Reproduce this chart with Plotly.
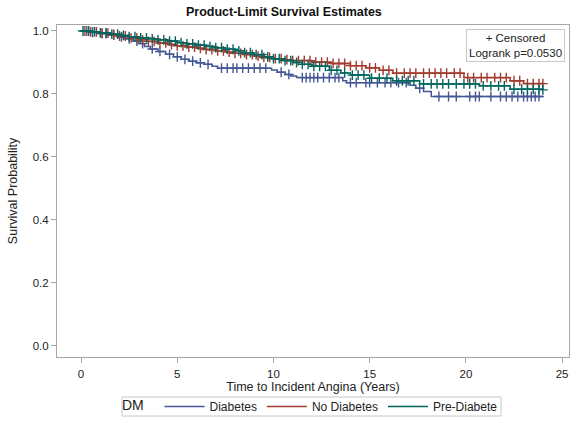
import plotly.graph_objects as go

# ---- data ----
groups = ["Diabetes", "No Diabetes", "Pre-Diabete"]
colors = ["#445694", "#A23A2E", "#01665E"]

dia_t = [0, 0.4, 0.9, 1.4, 1.9, 2.3, 2.7, 3.0, 3.3, 3.6, 4.0, 4.4, 4.8, 5.2, 5.6, 6.0, 6.4, 6.8, 7.1, 9.9, 10.2, 10.6, 10.9, 11.2, 13.6, 13.8, 17.1, 17.4, 17.8, 18.2, 24.0]
dia_s = [1.0, 0.996, 0.992, 0.987, 0.981, 0.975, 0.968, 0.960, 0.951, 0.943, 0.935, 0.926, 0.918, 0.910, 0.904, 0.899, 0.894, 0.888, 0.882, 0.876, 0.869, 0.862, 0.857, 0.852, 0.842, 0.836, 0.828, 0.818, 0.808, 0.792, 0.792]

nod_t = [0, 0.5, 1.0, 1.5, 2.0, 2.5, 3.0, 3.5, 4.0, 4.5, 5.0, 5.5, 6.0, 6.5, 7.0, 7.5, 8.0, 8.5, 9.0, 9.5, 10.0, 10.5, 11.0, 12.0, 13.0, 14.0, 14.8, 15.5, 16.2, 19.9, 22.3, 23.0, 24.1]
nod_s = [1.0, 0.997, 0.993, 0.989, 0.984, 0.978, 0.972, 0.967, 0.962, 0.957, 0.953, 0.949, 0.945, 0.941, 0.937, 0.933, 0.929, 0.925, 0.920, 0.916, 0.912, 0.909, 0.906, 0.901, 0.897, 0.890, 0.883, 0.875, 0.866, 0.852, 0.842, 0.833, 0.833]

pre_t = [0, 0.5, 1.0, 1.5, 2.0, 2.5, 3.0, 3.5, 4.0, 4.5, 5.0, 5.5, 6.0, 6.5, 7.0, 7.5, 8.0, 8.5, 9.0, 9.5, 10.0, 10.5, 11.0, 11.5, 12.0, 12.9, 13.5, 14.0, 15.0, 16.2, 17.6, 20.7, 22.3, 24.0]
pre_s = [1.0, 0.997, 0.994, 0.990, 0.986, 0.982, 0.978, 0.975, 0.972, 0.968, 0.963, 0.959, 0.955, 0.951, 0.947, 0.942, 0.937, 0.931, 0.925, 0.918, 0.912, 0.906, 0.900, 0.894, 0.888, 0.875, 0.867, 0.860, 0.850, 0.842, 0.832, 0.826, 0.815, 0.813]

dia_cens = [0.3, 0.6, 1.1, 1.3, 1.7, 2.1, 2.5, 2.9, 3.2, 3.7, 4.1, 4.6, 5.0, 5.4, 5.8, 6.2, 6.6, 7.3, 7.6, 7.9, 8.1, 8.4, 8.7, 9.0, 9.3, 9.6, 10.4, 10.8, 11.5, 11.7, 11.9, 12.1, 12.3, 12.6, 12.9, 13.2, 13.4, 14.0, 14.3, 14.8, 15.0, 15.4, 15.8, 16.1, 16.5, 16.9, 17.6, 18.6, 19.1, 19.5, 20.2, 20.5, 20.7, 21.3, 21.8, 22.1, 22.4, 22.7, 23.0, 23.2, 23.4, 23.6, 23.8]
nod_cens = [0.2, 0.5, 0.8, 1.1, 1.4, 1.7, 2.0, 2.3, 2.6, 2.9, 3.2, 3.5, 3.8, 4.1, 4.4, 4.7, 5.0, 5.3, 5.6, 5.9, 6.2, 6.5, 6.8, 7.1, 7.4, 7.7, 8.0, 8.3, 8.6, 8.9, 9.2, 9.5, 9.8, 10.1, 10.4, 10.7, 11.0, 11.3, 11.6, 11.9, 12.2, 12.5, 12.8, 13.1, 13.4, 13.7, 14.0, 14.3, 14.6, 15.0, 15.3, 15.7, 16.0, 16.4, 16.8, 17.1, 17.4, 17.8, 18.1, 18.4, 18.7, 19.0, 19.4, 19.7, 20.1, 20.4, 20.8, 21.1, 21.5, 21.8, 22.1, 22.5, 22.8, 23.2, 23.5, 23.8, 24.0]
pre_cens = [0.1, 0.4, 0.7, 1.0, 1.3, 1.6, 1.9, 2.2, 2.5, 2.8, 3.1, 3.4, 3.7, 4.0, 4.3, 4.6, 4.9, 5.2, 5.5, 5.8, 6.1, 6.4, 6.7, 7.0, 7.3, 7.6, 7.9, 8.2, 8.5, 8.8, 9.1, 9.4, 9.7, 10.0, 10.3, 10.6, 10.9, 11.2, 11.5, 11.8, 12.1, 12.4, 12.7, 13.0, 13.3, 13.7, 14.1, 14.4, 14.7, 15.1, 15.5, 15.9, 16.4, 16.7, 17.0, 17.3, 17.8, 18.2, 18.5, 18.8, 19.1, 19.5, 19.9, 20.2, 20.5, 20.9, 21.3, 21.7, 22.0, 22.5, 22.9, 23.2, 23.5, 23.8, 24.0]

x_ticks = [0, 5, 10, 15, 20, 25]
y_ticks = [0.0, 0.2, 0.4, 0.6, 0.8, 1.0]
y_tick_labels = ["0.0", "0.2", "0.4", "0.6", "0.8", "1.0"]


def step_value(ts, ss, t):
    v = ss[0]
    for ti, si in zip(ts, ss):
        if ti <= t:
            v = si
        else:
            break
    return v


fig = go.Figure()
series = [(dia_t, dia_s, dia_cens), (nod_t, nod_s, nod_cens), (pre_t, pre_s, pre_cens)]
for name, col, (ts, ss, cs) in zip(groups, colors, series):
    fig.add_trace(go.Scatter(x=ts, y=ss, mode="lines", name=name,
                             line=dict(color=col, width=1.5, shape="hv")))
    fig.add_trace(go.Scatter(x=cs, y=[step_value(ts, ss, c) for c in cs], mode="markers",
                             showlegend=False, hoverinfo="skip",
                             marker=dict(symbol="cross-thin-open", size=7, color=col,
                                         line=dict(color=col, width=1.4))))

axis_col = "#a6a6a6"
fig.update_layout(
    width=577, height=429,
    margin=dict(l=57, r=8, t=25, b=72, autoexpand=False),
    paper_bgcolor="white", plot_bgcolor="white",
    font=dict(family="Liberation Sans, Arial, sans-serif", size=12, color="#222222"),
    title=dict(text="<b>Product-Limit Survival Estimates</b>", x=0.492, xanchor="center",
               y=0.972, yanchor="middle", font=dict(size=12.5, color="#111111")),
    xaxis=dict(range=[-1.25, 25.36], tickvals=x_ticks, ticks="outside", ticklen=5,
               tickcolor=axis_col, showline=True, linecolor=axis_col, mirror=True,
               showgrid=False, zeroline=False, tickfont=dict(size=11.5), automargin=False,
               ticklabelstandoff=1,
               title=dict(text="Time to Incident Angina (Years)", font=dict(size=12.5), standoff=1)),
    yaxis=dict(range=[-0.035, 1.019], tickvals=y_ticks, ticktext=y_tick_labels,
               ticks="outside", ticklen=5, tickcolor=axis_col, showline=True,
               linecolor=axis_col, mirror=True, showgrid=False, zeroline=False,
               tickfont=dict(size=11.5), automargin=False,
               title=dict(text="Survival Probability", font=dict(size=12.5), standoff=12)),
    legend=dict(orientation="h", x=0.497, xanchor="center", y=-0.149, yanchor="middle",
                borderwidth=0, bgcolor="rgba(0,0,0,0)", font=dict(size=12),
                title=dict(text="DM  ", side="left"), itemwidth=40, tracegroupgap=0),
    showlegend=True,
    shapes=[dict(type="rect", xref="paper", yref="paper",
                 x0=(122 - 57) / 512, x1=(501 - 57) / 512,
                 y0=(357 - 416) / 332, y1=(357 - 397) / 332,
                 line=dict(color="#c8c8c8", width=1), fillcolor="rgba(0,0,0,0)")],
)

fig.add_annotation(x=0.992, y=0.988, xref="paper", yref="paper", xanchor="right", yanchor="top",
                   text="+ Censored<br>Logrank p=0.0530", showarrow=False, align="center",
                   bordercolor="#c8c8c8", borderwidth=1, borderpad=2,
                   font=dict(size=11.5, color="#222222"), bgcolor="white")

fig.write_html("out.html", config={"displayModeBar": False},
               post_script="document.body.style.margin='0';")
